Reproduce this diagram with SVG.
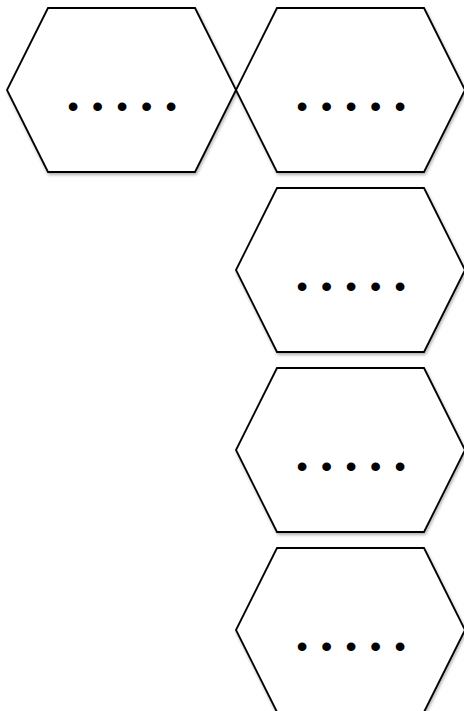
<svg xmlns="http://www.w3.org/2000/svg" width="464" height="711" viewBox="0 0 464 711">
<defs>
<filter id="sh" x="-10%" y="-10%" width="130%" height="130%">
<feDropShadow dx="1" dy="2" stdDeviation="1.5" flood-color="#000" flood-opacity="0.3"/>
</filter>
<polygon id="hex" points="41,-82 188,-82 229,0 188,82 41,82 0,0"/>
</defs>
<style>
.h{fill:#fff;stroke:#000;stroke-width:1.8;stroke-linejoin:miter}
.d{font-family:"Liberation Sans",Arial,sans-serif;font-size:32px;fill:#000;text-anchor:middle}
</style>
<g id="node1" transform="translate(7,90)"><use href="#hex" class="h" filter="url(#sh)"/><text class="d" x="66 90.5 115 139.5 164" y="27">•••••</text></g>
<g id="node2" transform="translate(236,90)"><use href="#hex" class="h" filter="url(#sh)"/><text class="d" x="66 90.5 115 139.5 164" y="27">•••••</text></g>
<g id="node3" transform="translate(236,270)"><use href="#hex" class="h" filter="url(#sh)"/><text class="d" x="66 90.5 115 139.5 164" y="27">•••••</text></g>
<g id="node4" transform="translate(236,450)"><use href="#hex" class="h" filter="url(#sh)"/><text class="d" x="66 90.5 115 139.5 164" y="27">•••••</text></g>
<g id="node5" transform="translate(236,630)"><use href="#hex" class="h" filter="url(#sh)"/><text class="d" x="66 90.5 115 139.5 164" y="27">•••••</text></g>
<g id="connectors"></g>
</svg>
